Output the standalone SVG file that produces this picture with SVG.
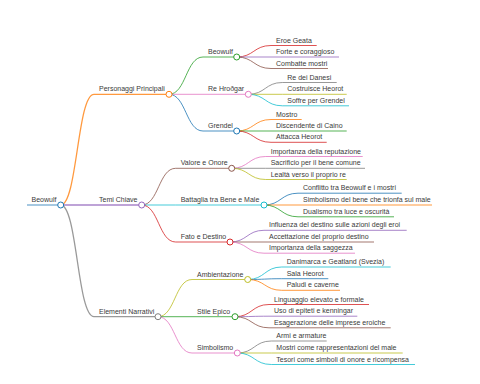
<svg xmlns="http://www.w3.org/2000/svg" width="480" height="384" viewBox="0 0 480 384">
<style>
text{font-family:"Liberation Sans",Arial,sans-serif;font-size:7px;fill:#3a3a3a}
line,path{fill:none;stroke-width:1;stroke-opacity:0.8}
circle{fill:#fff;stroke-width:1}
.blue{stroke:#1f77b4}.orange{stroke:#ff7f0e}.green{stroke:#2ca02c}.red{stroke:#d62728}.purple{stroke:#9467bd}
.brown{stroke:#8c564b}.pink{stroke:#e377c2}.gray{stroke:#7f7f7f}.olive{stroke:#bcbd22}.cyan{stroke:#17becf}
.l1{stroke-width:1.3}
</style>
<rect width="480" height="384" fill="#fff"/>
<g id="connectors">
<path class="orange l1" d="M60.7,205 C77.3,205 77.3,94.3 94,94.3"/>
<path class="purple l1" d="M60.7,205 L94,205"/>
<path class="gray l1" d="M60.7,205 C77.3,205 77.3,316.7 94,316.7"/>
<path class="green" d="M169,94.3 C186,94.3 186,57 203,57"/>
<path class="pink" d="M169,94.3 L203,94.3"/>
<path class="blue" d="M169,94.3 C186,94.3 186,131 203,131"/>
<path class="brown" d="M141.7,205 C158.7,205 158.7,168.3 175.7,168.3"/>
<path class="cyan" d="M141.7,205 L175.7,205"/>
<path class="red" d="M141.7,205 C158.7,205 158.7,242 175.7,242"/>
<path class="olive" d="M158,316.7 C175,316.7 175,279.5 192,279.5"/>
<path class="green" d="M158,316.7 L192,316.7"/>
<path class="pink" d="M158,316.7 C175,316.7 175,353 192,353"/>
<path class="red" d="M236.7,57 C253.8,57 253.8,45.5 271,45.5"/>
<path class="purple" d="M236.7,57 L271,57"/>
<path class="brown" d="M236.7,57 C253.8,57 253.8,68.5 271,68.5"/>
<path class="gray" d="M248.3,94.3 C265.3,94.3 265.3,82.5 282.3,82.5"/>
<path class="olive" d="M248.3,94.3 L282.3,94.3"/>
<path class="cyan" d="M248.3,94.3 C265.3,94.3 265.3,105.8 282.3,105.8"/>
<path class="orange" d="M236.7,131 C253.8,131 253.8,119.5 271,119.5"/>
<path class="green" d="M236.7,131 L271,131"/>
<path class="red" d="M236.7,131 C253.8,131 253.8,142.3 271,142.3"/>
<path class="pink" d="M231.7,168.3 C248.7,168.3 248.7,156.5 265.7,156.5"/>
<path class="gray" d="M231.7,168.3 L265.7,168.3"/>
<path class="olive" d="M231.7,168.3 C248.7,168.3 248.7,179.5 265.7,179.5"/>
<path class="blue" d="M264,205 C281,205 281,193.2 298,193.2"/>
<path class="orange" d="M264,205 L298,205"/>
<path class="green" d="M264,205 C281,205 281,216.8 298,216.8"/>
<path class="purple" d="M230,242 C247,242 247,230.3 264,230.3"/>
<path class="brown" d="M230,242 L264,242"/>
<path class="pink" d="M230,242 C247,242 247,253.2 264,253.2"/>
<path class="cyan" d="M247.7,279.5 C264.7,279.5 264.7,267 281.7,267"/>
<path class="blue" d="M247.7,279.5 C264.7,279.5 264.7,278.7 281.7,278.7"/>
<path class="orange" d="M247.7,279.5 C264.7,279.5 264.7,290.3 281.7,290.3"/>
<path class="red" d="M235,316.7 C252,316.7 252,304.5 269,304.5"/>
<path class="purple" d="M235,316.7 C252,316.7 252,316.2 269,316.2"/>
<path class="brown" d="M235,316.7 C252,316.7 252,327.8 269,327.8"/>
<path class="gray" d="M237.3,353 C254.3,353 254.3,341 271.3,341"/>
<path class="olive" d="M237.3,353 L271.3,353"/>
<path class="cyan" d="M237.3,353 C254.3,353 254.3,364.5 271.3,364.5"/>
</g>
<g id="n-root"><line class="blue" x1="27" y1="205" x2="60.7" y2="205" stroke-width="2"/><circle class="blue" cx="60.7" cy="205" r="3"/><text x="31.5" y="202">Beowulf</text></g>
<g id="n-personaggi"><line class="orange l1" x1="94" y1="94.3" x2="169" y2="94.3"/><circle class="orange" cx="169" cy="94.3" r="3"/><text x="99" y="91.3">Personaggi Principali</text></g>
<g id="n-temi"><line class="purple l1" x1="94" y1="205" x2="141.7" y2="205"/><circle class="purple" cx="141.7" cy="205" r="3"/><text x="99" y="202">Temi Chiave</text></g>
<g id="n-elementi"><line class="gray l1" x1="94" y1="316.7" x2="158" y2="316.7"/><circle class="gray" cx="158" cy="316.7" r="3"/><text x="99" y="313.7">Elementi Narrativi</text></g>
<g id="n-beowulf"><line class="green" x1="203" y1="57" x2="236.7" y2="57"/><circle class="green" cx="236.7" cy="57" r="3"/><text x="208" y="54">Beowulf</text></g>
<g id="n-hrothgar"><line class="pink" x1="203" y1="94.3" x2="248.3" y2="94.3"/><circle class="pink" cx="248.3" cy="94.3" r="3"/><text x="208" y="91.3">Re Hroðgar</text></g>
<g id="n-grendel"><line class="blue" x1="203" y1="131" x2="236.7" y2="131"/><circle class="blue" cx="236.7" cy="131" r="3"/><text x="208" y="128">Grendel</text></g>
<g id="n-valore"><line class="brown" x1="175.7" y1="168.3" x2="231.7" y2="168.3"/><circle class="brown" cx="231.7" cy="168.3" r="3"/><text x="180.7" y="165.3">Valore e Onore</text></g>
<g id="n-battaglia"><line class="cyan" x1="175.7" y1="205" x2="264" y2="205"/><circle class="cyan" cx="264" cy="205" r="3"/><text x="180.7" y="202">Battaglia tra Bene e Male</text></g>
<g id="n-fato"><line class="red" x1="175.7" y1="242" x2="230" y2="242"/><circle class="red" cx="230" cy="242" r="3"/><text x="180.7" y="239">Fato e Destino</text></g>
<g id="n-ambientazione"><line class="olive" x1="192" y1="279.5" x2="247.7" y2="279.5"/><circle class="olive" cx="247.7" cy="279.5" r="3"/><text x="197" y="276.5">Ambientazione</text></g>
<g id="n-stile"><line class="green" x1="192" y1="316.7" x2="235" y2="316.7"/><circle class="green" cx="235" cy="316.7" r="3"/><text x="197" y="313.7">Stile Epico</text></g>
<g id="n-simbolismo"><line class="pink" x1="192" y1="353" x2="237.3" y2="353"/><circle class="pink" cx="237.3" cy="353" r="3"/><text x="197" y="350">Simbolismo</text></g>
<g id="n-l1"><line class="red" x1="271" y1="45.5" x2="316.7" y2="45.5"/><text x="276" y="42.5">Eroe Geata</text></g>
<g id="n-l2"><line class="purple" x1="271" y1="57" x2="339" y2="57"/><text x="276" y="54">Forte e coraggioso</text></g>
<g id="n-l3"><line class="brown" x1="271" y1="68.5" x2="328" y2="68.5"/><text x="276" y="65.5">Combatte mostri</text></g>
<g id="n-l4"><line class="gray" x1="282.3" y1="82.5" x2="336.7" y2="82.5"/><text x="287.3" y="79.5">Re dei Danesi</text></g>
<g id="n-l5"><line class="olive" x1="282.3" y1="94.3" x2="346.7" y2="94.3"/><text x="287.3" y="91.3">Costruisce Heorot</text></g>
<g id="n-l6"><line class="cyan" x1="282.3" y1="105.8" x2="349" y2="105.8"/><text x="287.3" y="102.8">Soffre per Grendel</text></g>
<g id="n-l7"><line class="orange" x1="271" y1="119.5" x2="301.7" y2="119.5"/><text x="276" y="116.5">Mostro</text></g>
<g id="n-l8"><line class="green" x1="271" y1="131" x2="346.7" y2="131"/><text x="276" y="128">Discendente di Caino</text></g>
<g id="n-l9"><line class="red" x1="271" y1="142.3" x2="326.7" y2="142.3"/><text x="276" y="139.3">Attacca Heorot</text></g>
<g id="n-l10"><line class="pink" x1="265.7" y1="156.5" x2="362.7" y2="156.5"/><text x="270.7" y="153.5">Importanza della reputazione</text></g>
<g id="n-l11"><line class="gray" x1="265.7" y1="168.3" x2="365" y2="168.3"/><text x="270.7" y="165.3">Sacrificio per il bene comune</text></g>
<g id="n-l12"><line class="olive" x1="265.7" y1="179.5" x2="346.7" y2="179.5"/><text x="270.7" y="176.5">Lealtà verso il proprio re</text></g>
<g id="n-l13"><line class="blue" x1="298" y1="193.2" x2="401.7" y2="193.2"/><text x="303" y="190.2">Conflitto tra Beowulf e i mostri</text></g>
<g id="n-l14"><line class="orange" x1="298" y1="205" x2="432" y2="205"/><text x="303" y="202">Simbolismo del bene che trionfa sul male</text></g>
<g id="n-l15"><line class="green" x1="298" y1="216.8" x2="394" y2="216.8"/><text x="303" y="213.8">Dualismo tra luce e oscurità</text></g>
<g id="n-l16"><line class="purple" x1="264" y1="230.3" x2="406.7" y2="230.3"/><text x="269" y="227.3">Influenza del destino sulle azioni degli eroi</text></g>
<g id="n-l17"><line class="brown" x1="264" y1="242" x2="374" y2="242"/><text x="269" y="239">Accettazione del proprio destino</text></g>
<g id="n-l18"><line class="pink" x1="264" y1="253.2" x2="355" y2="253.2"/><text x="269" y="250.2">Importanza della saggezza</text></g>
<g id="n-l19"><line class="cyan" x1="281.7" y1="267" x2="390.7" y2="267"/><text x="286.7" y="264">Danimarca e Geatland (Svezia)</text></g>
<g id="n-l20"><line class="blue" x1="281.7" y1="278.7" x2="328.3" y2="278.7"/><text x="286.7" y="275.7">Sala Heorot</text></g>
<g id="n-l21"><line class="orange" x1="281.7" y1="290.3" x2="340" y2="290.3"/><text x="286.7" y="287.3">Paludi e caverne</text></g>
<g id="n-l22"><line class="red" x1="269" y1="304.5" x2="369" y2="304.5"/><text x="274" y="301.5">Linguaggio elevato e formale</text></g>
<g id="n-l23"><line class="purple" x1="269" y1="316.2" x2="357.3" y2="316.2"/><text x="274" y="313.2">Uso di epiteti e kenningar</text></g>
<g id="n-l24"><line class="brown" x1="269" y1="327.8" x2="390.7" y2="327.8"/><text x="274" y="324.8">Esagerazione delle imprese eroiche</text></g>
<g id="n-l25"><line class="gray" x1="271.3" y1="341" x2="326.7" y2="341"/><text x="276.3" y="338">Armi e armature</text></g>
<g id="n-l26"><line class="olive" x1="271.3" y1="353" x2="402.7" y2="353"/><text x="276.3" y="350">Mostri come rappresentazioni del male</text></g>
<g id="n-l27"><line class="cyan" x1="271.3" y1="364.5" x2="415" y2="364.5"/><text x="276.3" y="361.5">Tesori come simboli di onore e ricompensa</text></g>
</svg>
